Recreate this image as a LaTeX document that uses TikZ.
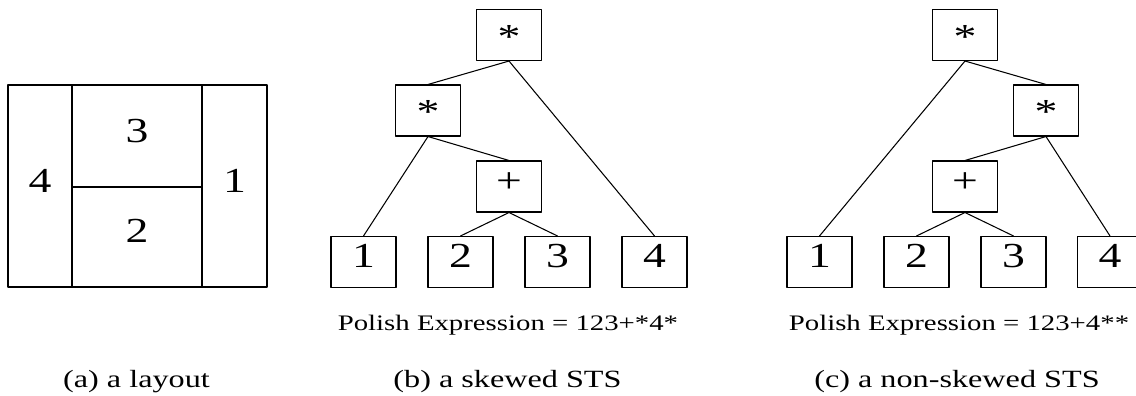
\documentclass[tikz,border=0pt]{standalone}
\usepackage{fontspec}
\setmainfont{Liberation Serif}[FakeStretch=1.3]
\begin{document}
\begin{tikzpicture}[line cap=round,line join=round,line width=0.6pt,
	big/.style={font=\fontsize{20}{24}\selectfont,text height=0.68em,text depth=0pt},
	box/.style={big,draw,minimum width=1.3cm,minimum height=1.02cm,inner sep=0pt},
	expr/.style={anchor=base,inner sep=0pt,font=\fontsize{12.6}{15}\selectfont},
	capt/.style={anchor=base,inner sep=0pt,font=\fontsize{14.1}{17}\selectfont}]
	\useasboundingbox (0,0) rectangle (22.72,7.9);
	% (a) slicing floorplan
	\draw (0.16,2.16) rectangle (5.34,6.2);
	\draw (1.44,2.16)--(1.44,6.2) (4.04,2.16)--(4.04,6.2) (1.44,4.16)--(4.04,4.16);
	\node[big] (m4) at (0.8,4.16) {4};
	\node[big] (m3) at (2.74,5.16) {3};
	\node[big] (m2) at (2.74,3.16) {2};
	\node[big] (m1) at (4.69,4.16) {1};
	% (b) skewed tree
	\node[box] (b-root) at (10.18,7.2) {\raisebox{-0.2em}{*}};
	\node[box] (b-mul) at (8.56,5.69) {\raisebox{-0.2em}{*}};
	\node[box] (b-add) at (10.18,4.17) {+};
	\node[box] (b-1) at (7.27,2.66) {1};
	\node[box] (b-2) at (9.21,2.66) {2};
	\node[box] (b-3) at (11.15,2.66) {3};
	\node[box] (b-4) at (13.09,2.66) {4};
	\draw (b-root.south)--(b-mul.north) (b-root.south)--(b-4.north)
	(b-mul.south)--(b-1.north) (b-mul.south)--(b-add.north)
	(b-add.south)--(b-2.north) (b-add.south)--(b-3.north);
	% (c) non-skewed tree
	\node[box] (c-root) at (19.3,7.2) {\raisebox{-0.2em}{*}};
	\node[box] (c-mul) at (20.92,5.69) {\raisebox{-0.2em}{*}};
	\node[box] (c-add) at (19.3,4.17) {+};
	\node[box] (c-1) at (16.39,2.66) {1};
	\node[box] (c-2) at (18.33,2.66) {2};
	\node[box] (c-3) at (20.27,2.66) {3};
	\node[box] (c-4) at (22.2,2.66) {4};
	\draw (c-root.south)--(c-1.north) (c-root.south)--(c-mul.north)
	(c-mul.south)--(c-add.north) (c-mul.south)--(c-4.north)
	(c-add.south)--(c-2.north) (c-add.south)--(c-3.north);
	% expressions and captions
	\node[expr] (pe-b) at (10.16,1.29) {Polish Expression = 123+*4*};
	\node[expr] (pe-c) at (19.18,1.29) {Polish Expression = 123+4**};
	\node[capt] (cap-a) at (2.73,0.16) {(a) a layout};
	\node[capt] (cap-b) at (10.15,0.16) {(b) a skewed STS};
	\node[capt] (cap-c) at (19.14,0.16) {(c) a non-skewed STS};
\end{tikzpicture}
\end{document}
